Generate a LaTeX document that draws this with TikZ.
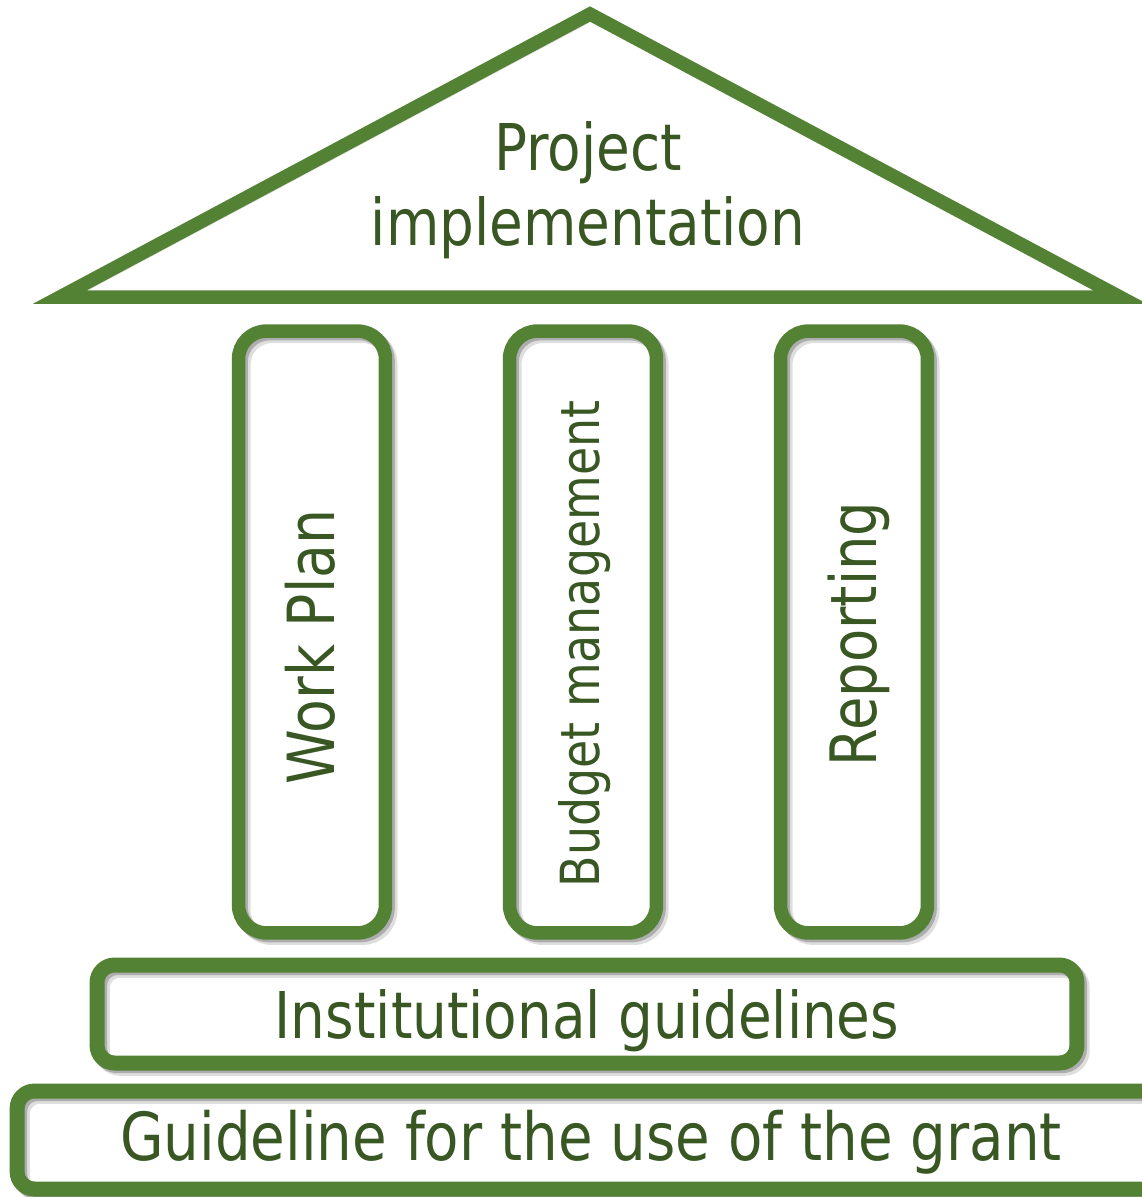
\documentclass[tikz,border=0pt]{standalone}
\usepackage{fontspec}
\setmainfont{DejaVu Sans}[FakeStretch=0.85]
\usepackage{tikz}
\usetikzlibrary{shadows}
\definecolor{leaf}{RGB}{84,130,53}
\definecolor{ink}{RGB}{56,87,35}

\begin{document}
\begin{tikzpicture}[
            x = 0.02cm, y = -0.02cm, % one unit per pixel
            line join = miter,
            text = ink
        ]

        \tikzstyle{frame}=[
            draw = leaf,
            line width = 0.27cm,
            drop shadow = {draw = black, fill = none, opacity = 0.13,
                shadow xshift = 3pt, shadow yshift = -3pt},
            drop shadow = {draw = black, fill = none, opacity = 0.22,
                shadow xshift = 1.5pt, shadow yshift = -1.5pt}
        ]
        \tikzstyle{pillar}=[
            frame,
            rounded corners = 0.56cm,
            minimum width = 2.94cm,
            minimum height = 12.04cm
        ]
        \tikzstyle{upright}=[
            rotate = 90,
            inner sep = 0pt
        ]
        \tikzstyle{slab}=[
            frame,
            line width = 0.3cm,
            rounded corners = 0.35cm,
            minimum height = 1.96cm,
            inner sep = 0pt
        ]

        \useasboundingbox (0,0) rectangle (1142,1197);

        % roof
        \draw[frame] (60,297) -- (590,14) -- (1120,297) -- cycle;
        \node[align = center, font = \fontsize{36.7}{42.7}\selectfont] (roof) at (588,190) {Project\\implementation};

        % pillars
        \node[pillar] (plan) at (312,632) {};
        \node[pillar] (budget) at (583,632) {};
        \node[pillar] (report) at (854,632) {};

        \node[upright, font = \fontsize{37}{44}\selectfont] (plantext) at (310,647) {Work Plan};
        \node[upright, font = \fontsize{30.7}{36}\selectfont] (budgettext) at (585,644) {Budget management};
        \node[upright, font = \fontsize{36.4}{44}\selectfont] (reporttext) at (859,634) {Reporting};

        % base
        \node[slab, minimum width = 19.6cm, font = \fontsize{36.7}{44}\selectfont] (rules) at (587,1014) {\raisebox{-4pt}[\height][\depth]{Institutional guidelines}};
        \node[slab, minimum width = 22.96cm, font = \fontsize{37.7}{44}\selectfont] (grant) at (591,1140) {\raisebox{-1pt}[\height][\depth]{Guideline for the use of the grant}};

  \end{tikzpicture}
\end{document}
